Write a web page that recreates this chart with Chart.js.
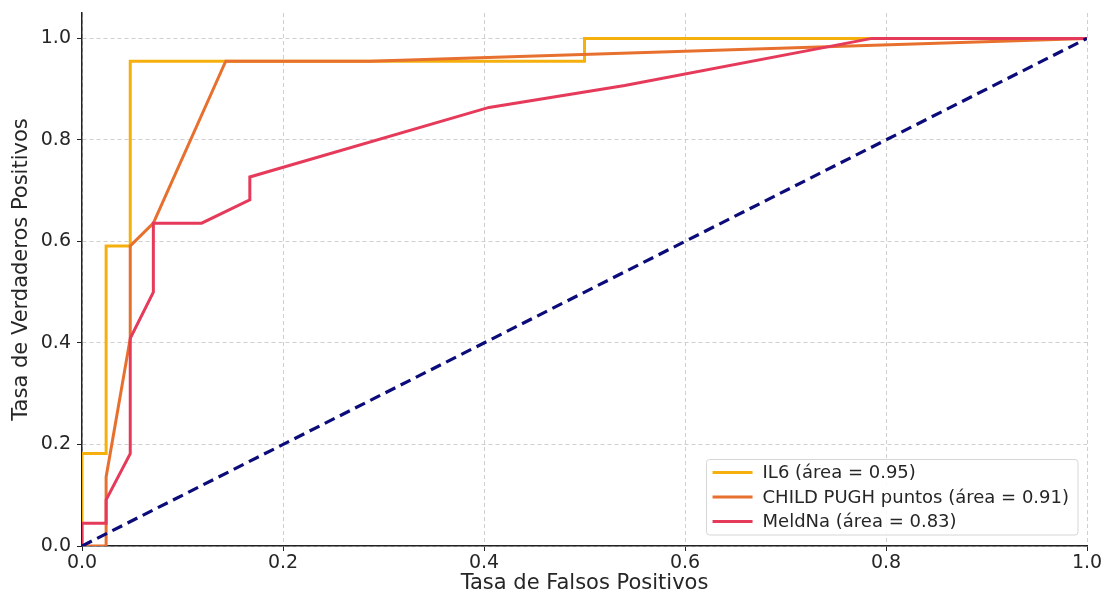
<!DOCTYPE html>
<html>
<head>
<meta charset="utf-8">
<script src="https://cdn.jsdelivr.net/npm/chart.js@4/dist/chart.umd.min.js"></script>
<style>
  html, body { margin: 0; padding: 0; background: #fff; }
  #wrap { width: 1107px; height: 596px; }
</style>
</head>
<body>
<div id="wrap"><canvas id="roc" width="1107" height="596"></canvas></div>
<script>
// ---- datos ----
const il6Fpr = [0, 0, 0.024, 0.024, 0.048, 0.048, 0.5, 0.5, 1];
const il6Tpr = [0, 0.182, 0.182, 0.591, 0.591, 0.955, 0.955, 1, 1];

const childFpr = [0, 0.024, 0.024, 0.048, 0.048, 0.071, 0.143, 0.286, 1];
const childTpr = [0, 0, 0.136, 0.409, 0.591, 0.636, 0.955, 0.955, 1];

const meldFpr = [0, 0, 0.024, 0.024, 0.048, 0.048, 0.071, 0.071, 0.119, 0.167, 0.167, 0.405, 0.54, 0.786, 1];
const meldTpr = [0, 0.045, 0.045, 0.091, 0.182, 0.409, 0.5, 0.636, 0.636, 0.682, 0.727, 0.864, 0.907, 1, 1];

const chanceX = [0, 1];
const chanceY = [0, 1];

const seriesLabels = ['IL6 (área = 0.95)', 'CHILD PUGH puntos (área = 0.91)', 'MeldNa (área = 0.83)'];
const xTicks = [0, 0.2, 0.4, 0.6, 0.8, 1.0];
const yTicks = [0, 0.2, 0.4, 0.6, 0.8, 1.0];
const xTitle = 'Tasa de Falsos Positivos';
const yTitle = 'Tasa de Verdaderos Positivos';

const FONT = "'DejaVu Sans', sans-serif";
const TXT = '#262626';

function pts(xs, ys) { return xs.map((x, i) => ({ x: x, y: ys[i] })); }

/* leyenda dentro del área, abajo a la derecha */
const legendBox = {
  id: 'legendBox',
  afterDraw(chart) {
    const ctx = chart.ctx, area = chart.chartArea;
    const items = chart.data.datasets.filter(d => d.inLegend);
    ctx.save();
    ctx.font = '18px ' + FONT;
    let maxW = 0;
    items.forEach(d => { maxW = Math.max(maxW, ctx.measureText(d.label).width); });
    const rowH = 24.5, w = 56 + maxW + 9, h = items.length * rowH + 2;
    const x0 = area.right - 9 - w, y0 = area.bottom - 11 - h;
    ctx.beginPath();
    ctx.roundRect(x0, y0, w, h, 3);
    ctx.fillStyle = 'rgba(255,255,255,0.85)';
    ctx.fill();
    ctx.strokeStyle = '#d6d6d6';
    ctx.lineWidth = 1;
    ctx.stroke();
    items.forEach((d, i) => {
      const cy = y0 + 13 + i * rowH;
      ctx.beginPath();
      ctx.moveTo(x0 + 6, cy); ctx.lineTo(x0 + 46, cy);
      ctx.strokeStyle = d.borderColor; ctx.lineWidth = 3;
      ctx.stroke();
      ctx.fillStyle = TXT;
      ctx.textBaseline = 'middle';
      ctx.fillText(d.label, x0 + 56, cy + 1);
    });
    ctx.restore();
  }
};

/* título del eje Y (un poco por encima del centro, como en el original) */
const yTitlePlugin = {
  id: 'yTitle',
  afterDraw(chart) {
    const ctx = chart.ctx, area = chart.chartArea;
    ctx.save();
    ctx.translate(22, (area.top + area.bottom) / 2 - 10);
    ctx.rotate(-Math.PI / 2);
    ctx.font = '21px ' + FONT;
    ctx.fillStyle = TXT;
    ctx.textAlign = 'center';
    ctx.textBaseline = 'middle';
    ctx.fillText(yTitle, 0, 0);
    ctx.restore();
  }
};

const ctx = document.getElementById('roc').getContext('2d');
const chart = new Chart(ctx, {
  type: 'line',
  data: {
    datasets: [
      { label: seriesLabels[0], data: pts(il6Fpr, il6Tpr), borderColor: '#F5B00E', borderWidth: 3, order: 4, inLegend: true },
      { label: seriesLabels[1], data: pts(childFpr, childTpr), borderColor: '#E8702E', borderWidth: 3, order: 3, inLegend: true },
      { label: seriesLabels[2], data: pts(meldFpr, meldTpr), borderColor: '#E63A5A', borderWidth: 3, order: 2, inLegend: true },
      { label: 'azar', data: pts(chanceX, chanceY), borderColor: '#0B0B7A', borderWidth: 3.2, borderDash: [11, 6], order: 1, inLegend: false }
    ]
  },
  options: {
    responsive: false,
    animation: false,
    events: [],
    elements: { point: { radius: 0 }, line: { tension: 0, fill: false } },
    layout: { padding: { top: 13, right: 20, left: 0, bottom: 0 } },
    plugins: { legend: { display: false }, tooltip: { enabled: false } },
    scales: {
      x: {
        type: 'linear', min: 0, max: 1,
        afterBuildTicks: s => { s.ticks = xTicks.map(v => ({ value: v })); },
        afterFit: s => { s.height = 50; s.paddingLeft = 0; s.paddingRight = 0; },
        ticks: { font: { family: FONT, size: 19 }, color: TXT, padding: 1, maxRotation: 0,
                 callback: v => v.toFixed(1) },
        grid: { color: '#cfcfcf', lineWidth: 1, tickLength: 5, tickColor: '#222', tickBorderDash: [] },
        border: { display: true, color: '#222', width: 1.5, dash: [4, 3] },
        title: { display: true, text: xTitle, color: TXT,
                 font: { family: FONT, size: 21 }, padding: { top: 0, bottom: 0 } }
      },
      y: {
        type: 'linear', min: 0, max: 1.05,
        afterBuildTicks: s => { s.ticks = yTicks.map(v => ({ value: v })); },
        afterFit: s => { s.width = 82; s.paddingTop = 0; s.paddingBottom = 0; },
        ticks: { font: { family: FONT, size: 19 }, color: TXT, padding: 6,
                 callback: v => v.toFixed(1) },
        grid: { color: '#cfcfcf', lineWidth: 1, tickLength: 5, tickColor: '#222', tickBorderDash: [] },
        border: { display: true, color: '#222', width: 1.5, dash: [4, 3] },
        title: { display: false }
      }
    }
  },
  plugins: [legendBox, yTitlePlugin]
});
</script>
</body>
</html>
